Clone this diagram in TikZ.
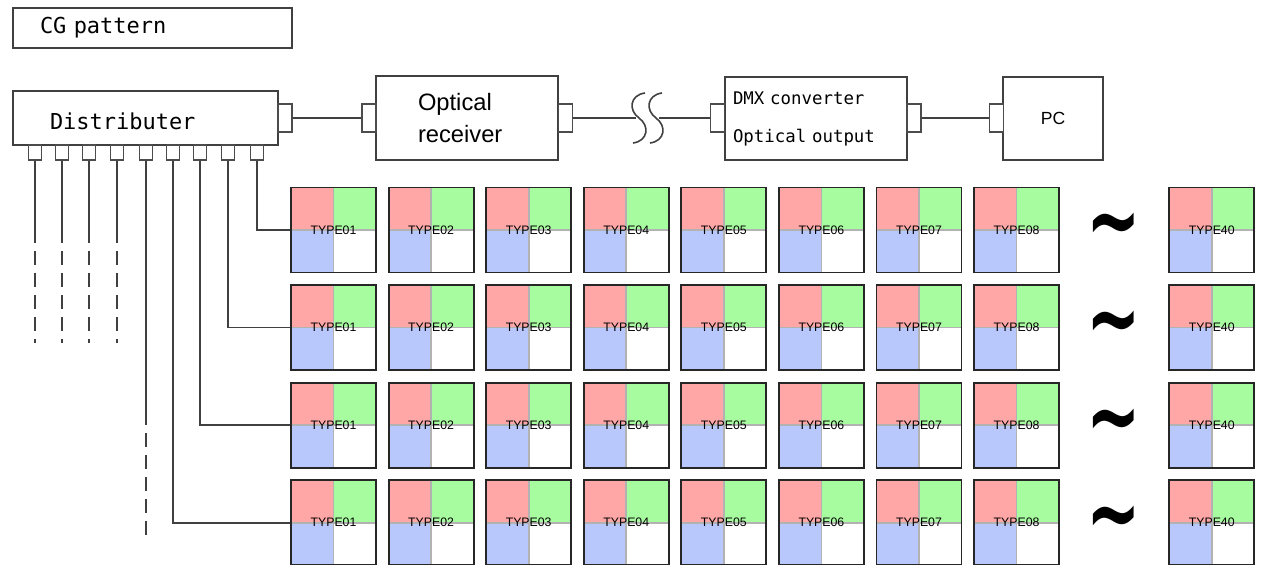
\documentclass[tikz,border=0pt]{standalone}
\usepackage{fontspec}
\setmainfont{Liberation Sans}
\newfontfamily\monofont{DejaVu Sans Mono}
\newfontfamily\symfont{DejaVu Sans}
\usetikzlibrary{positioning}
\definecolor{tilered}{HTML}{FFA6A6}
\definecolor{tilegreen}{HTML}{A8FCA0}
\definecolor{tileblue}{HTML}{B8C8FC}
\tikzset{
	box/.style={draw=black!75, line width=1pt, rectangle, inner sep=0pt, fill=white},
	port/.style={draw=black!70, line width=0.9pt, rectangle, inner sep=0pt, minimum width=0.26cm, minimum height=0.3cm, fill=white},
	sideport/.style={port, minimum width=0.28cm, minimum height=0.56cm},
	% one test pattern tile, four quadrants
	tile/.style={draw=black!85, line width=1.1pt, rectangle, inner sep=0pt, minimum size=1.7cm,
		font=\fontsize{7}{7}\selectfont,
		path picture={
			\fill[tilered] (path picture bounding box.north west) rectangle (path picture bounding box.center);
			\fill[tilegreen] (path picture bounding box.north east) rectangle (path picture bounding box.center);
			\fill[tileblue] (path picture bounding box.south west) rectangle (path picture bounding box.center);
			\draw[black!30, line width=1pt] (path picture bounding box.north) -- (path picture bounding box.south)
				(path picture bounding box.west) -- (path picture bounding box.east);
		}},
	swung/.style={font=\symfont\bfseries\fontsize{37}{37}\selectfont, inner sep=0pt, yscale=1.5, yshift=-0.05cm},
	wire/.style={black!75, line width=0.9pt},
	brokenwire/.style={dash pattern=on 0.28cm off 0.16cm, dash phase=0.28cm},
}

\begin{document}
\begin{tikzpicture}[x=0.02cm, y=-0.02cm, node distance=1.952cm]
	\useasboundingbox (0,0) rectangle (1276,565);
	
	\node (cg) [box, text width=4.5cm, inner xsep=0.54cm, minimum height=0.8cm, align=left, font=\monofont\fontsize{12.5}{15}\selectfont] at (152.5,28) {CG pattern};
	
	\node (dist) [box, text width=3.82cm, inner xsep=0.74cm, minimum height=1.08cm, text height=13.5pt, align=left, font=\monofont\fontsize{12.5}{15}\selectfont] at (145.5,118) {Distributer};
	\node (orx) [box, text width=1.96cm, inner xsep=0.84cm, minimum height=1.68cm, align=left, font=\fontsize{13.5}{18.2}\selectfont] at (467,118) {Optical\\receiver};
	\node (dmx) [box, text width=3.32cm, inner xsep=0.16cm, minimum height=1.66cm, align=left, font=\monofont\fontsize{9.9}{21.6}\selectfont] at (816,118.5) {DMX converter\\Optical output};
	\node (pc) [box, minimum width=2cm, minimum height=1.66cm, font=\fontsize{10}{12}\selectfont] at (1053,118.5) {PC};
	
	\node (dr) [sideport] at (285,118) {};
	\node (ol) [sideport] at (369,118) {};
	\node (or) [sideport] at (565.5,118) {};
	\node (ml) [sideport] at (717.5,118) {};
	\node (mr) [sideport] at (914,118) {};
	\node (cl) [sideport] at (996.5,118) {};
	
	\node (p1) [port] at (35,152.5) {};
	\node (p2) [port] at (62,152.5) {};
	\node (p3) [port] at (89,152.5) {};
	\node (p4) [port] at (117,152.5) {};
	\node (p5) [port] at (146,152.5) {};
	\node (p6) [port] at (173,152.5) {};
	\node (p7) [port] at (200,152.5) {};
	\node (p8) [port] at (228,152.5) {};
	\node (p9) [port] at (257,152.5) {};
	
	\node (t11) [tile] at (333.5,230) {TYPE01};
	\node (t12) [tile, right of=t11] {TYPE02};
	\node (t13) [tile, right of=t12] {TYPE03};
	\node (t14) [tile, right of=t13] {TYPE04};
	\node (t15) [tile, right of=t14] {TYPE05};
	\node (t16) [tile, right of=t15] {TYPE06};
	\node (t17) [tile, right of=t16] {TYPE07};
	\node (t18) [tile, right of=t17] {TYPE08};
	\node (s1) [swung, right of=t18] {∼};
	\node (t1n) [tile, right of=t18, xshift=1.952cm] {TYPE40};
	
	\node (t21) [tile, below of=t11] {TYPE01};
	\node (t22) [tile, right of=t21] {TYPE02};
	\node (t23) [tile, right of=t22] {TYPE03};
	\node (t24) [tile, right of=t23] {TYPE04};
	\node (t25) [tile, right of=t24] {TYPE05};
	\node (t26) [tile, right of=t25] {TYPE06};
	\node (t27) [tile, right of=t26] {TYPE07};
	\node (t28) [tile, right of=t27] {TYPE08};
	\node (s2) [swung, right of=t28] {∼};
	\node (t2n) [tile, right of=t28, xshift=1.952cm] {TYPE40};
	
	\node (t31) [tile, below of=t21] {TYPE01};
	\node (t32) [tile, right of=t31] {TYPE02};
	\node (t33) [tile, right of=t32] {TYPE03};
	\node (t34) [tile, right of=t33] {TYPE04};
	\node (t35) [tile, right of=t34] {TYPE05};
	\node (t36) [tile, right of=t35] {TYPE06};
	\node (t37) [tile, right of=t36] {TYPE07};
	\node (t38) [tile, right of=t37] {TYPE08};
	\node (s3) [swung, right of=t38] {∼};
	\node (t3n) [tile, right of=t38, xshift=1.952cm] {TYPE40};
	
	\node (t41) [tile, below of=t31] {TYPE01};
	\node (t42) [tile, right of=t41] {TYPE02};
	\node (t43) [tile, right of=t42] {TYPE03};
	\node (t44) [tile, right of=t43] {TYPE04};
	\node (t45) [tile, right of=t44] {TYPE05};
	\node (t46) [tile, right of=t45] {TYPE06};
	\node (t47) [tile, right of=t46] {TYPE07};
	\node (t48) [tile, right of=t47] {TYPE08};
	\node (s4) [swung, right of=t48] {∼};
	\node (t4n) [tile, right of=t48, xshift=1.952cm] {TYPE40};
	
	% loose ends
	\coordinate (brk1) at (636,118);
	\coordinate (brk2) at (659,118);
	\coordinate (e1) at (35,243);  \coordinate (f1) at (35,343);
	\coordinate (e2) at (62,243);  \coordinate (f2) at (62,343);
	\coordinate (e3) at (89,243);  \coordinate (f3) at (89,343);
	\coordinate (e4) at (117,243); \coordinate (f4) at (117,343);
	\coordinate (e5) at (146,425); \coordinate (f5) at (146,537);
	
	\begin{scope}[wire]
		\draw (dr) -- (ol);
		\draw (or) -- (brk1);
		\draw (brk2) -- (ml);
		\draw (mr) -- (cl);
		
		% cable break
		\draw (645,93) .. controls (630,95) and (628,110) .. (639,118) .. controls (650,126) and (648,141) .. (633,143);
		\draw (662,93) .. controls (647,95) and (645,110) .. (656,118) .. controls (667,126) and (665,141) .. (650,143);
		
		\draw (p9) |- (t11);
		\draw (p8) |- (t21);
		\draw (p7) |- (t31);
		\draw (p6) |- (t41);
		
		\draw (p1) -- (e1);
		\draw [brokenwire] (e1) -- (f1);
		\draw (p2) -- (e2);
		\draw [brokenwire] (e2) -- (f2);
		\draw (p3) -- (e3);
		\draw [brokenwire] (e3) -- (f3);
		\draw (p4) -- (e4);
		\draw [brokenwire] (e4) -- (f4);
		\draw (p5) -- (e5);
		\draw [brokenwire] (e5) -- (f5);
	\end{scope}
	
\end{tikzpicture}
\end{document}
